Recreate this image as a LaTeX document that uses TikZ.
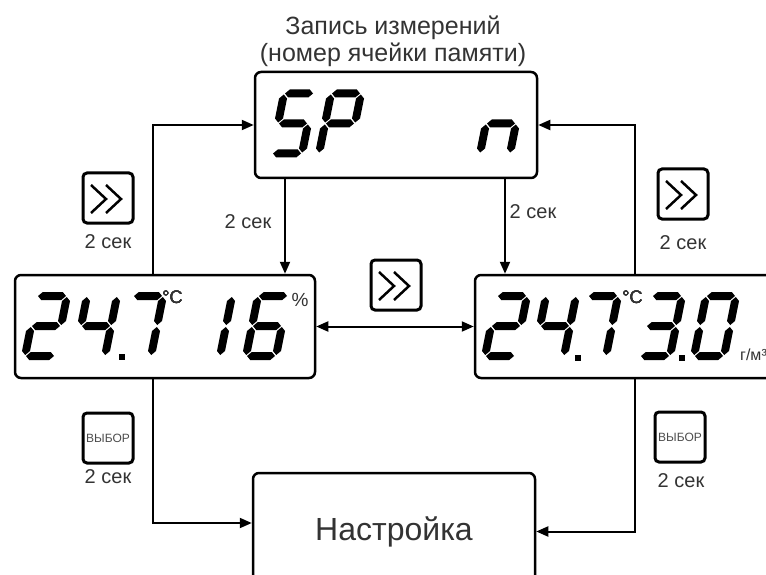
\documentclass[tikz,border=0pt]{standalone}
\usepackage{fontspec}
\setmainfont{Liberation Sans}
\usetikzlibrary{arrows.meta}

\tikzset{
  display/.style={draw, line width=2.5pt, rounded corners=6pt, inner sep=0pt},
  key/.style={draw, line width=3pt, rounded corners=4pt, minimum size=50pt, inner sep=0pt},
  wire/.style={line width=2pt},
  unit/.style={text=black!80, inner sep=0pt, font=\fontsize{18}{18}\selectfont},
  delay/.style={text=black!80, font=\fontsize{20}{20}\selectfont}
}

% pointed segments, horizontal and vertical
\newcommand\hseg[3]{\fill (#1-4,#3) -- (#1,#3+4) -- (#2,#3+4) -- (#2+4,#3) -- (#2,#3-4) -- (#1,#3-4) -- cycle;}
\newcommand\vseg[3]{\fill (#1,#2-4) -- (#1+4,#2) -- (#1+4,#3) -- (#1,#3+4) -- (#1-4,#3) -- (#1-4,#2) -- cycle;}

% segments of one digit, a..g
\pgfkeys{
  /seg/a/.code={\hseg{5}{25}{60}},
  /seg/b/.code={\vseg{30}{35}{55}},
  /seg/c/.code={\vseg{30}{5}{25}},
  /seg/d/.code={\hseg{5}{25}{0}},
  /seg/e/.code={\vseg{0}{5}{25}},
  /seg/f/.code={\vseg{0}{35}{55}},
  /seg/g/.code={\hseg{5}{25}{30}}
}

\newcommand\lcddigit[3]{%
  \edef\seglist{#3}%
  \begin{scope}[shift={(#1,#2)}, yscale=-1, xslant=-0.2]
    \foreach \s in \seglist {\pgfkeys{/seg/\s}}
  \end{scope}}

\newcommand\lcddot[2]{\fill (#1-3,#2-3) rectangle (#1+3,#2+3);}

\newcommand\chevrons[1]{%
  \draw[line width=2.5pt, shift={(#1)}] (-17,-13) -- (-2,1) -- (-17,15)
    (-2,-13) -- (13,1) -- (-2,15);}

\begin{document}
\begin{tikzpicture}[x=1pt, y=-1pt, >={Triangle[length=12pt,width=10pt]}]
\clip (0,0) rectangle (766,575);

\node [align=center, text=black!80, font=\fontsize{25}{27}\selectfont] (title) at (393,41)
  {Запись измерений\\(номер ячейки памяти)};

% displays
\node [display, minimum width=282pt, minimum height=106pt] (sp) at (396,125) {};
\node [display, minimum width=300pt, minimum height=103pt] (th) at (165,326.5) {};
\node [display, minimum width=300pt, minimum height=103pt] (ta) at (625,326.5) {};
\node [display, minimum width=282pt, minimum height=117pt, text=black!80,
  font=\fontsize{32}{36}\selectfont] (set) at (394,531.5) {Настройка};

% SP n
\lcddigit{272}{153.5}{a,f,g,c,d}
\lcddigit{319}{153.5}{a,b,f,g,e}
\lcddigit{480}{153.5}{e,g,c}

% 24.7 16
\foreach \x/\sg in {25/{a,b,g,e,d}, 75/{f,g,b,c}, 121/{a,b,c}, 190/{b,c}, 246/{a,f,g,e,d,c}}
  \lcddigit{\x}{356}{\sg}
\lcddot{122}{357}
\node [unit] (degl) at (172.5,297) {°C};
\node [unit, font=\fontsize{19}{19}\selectfont] (rh) at (300,300) {\%};

% 24.7 3.0
\foreach \x/\sg in {485/{a,b,g,e,d}, 534/{f,g,b,c}, 576/{a,b,c}, 640/{a,b,g,c,d}, 694/{a,b,c,d,e,f}}
  \lcddigit{\x}{356}{\sg}
\lcddot{578}{358}
\lcddot{682}{358}
\node [unit] (degr) at (632.5,297) {°C};
\node [unit, anchor=south west, font=\fontsize{16}{16}\selectfont] (ah) at (740,361) {г/м³};

% keys
\node [key] (fl) at (108,198) {};
\chevrons{fl}
\node [key] (fr) at (683,194) {};
\chevrons{fr}
\node [key] (fm) at (396,285) {};
\chevrons{fm}
\node [key, text=black!70, font=\fontsize{12}{12}\selectfont] (sl) at (108,438) {ВЫБОР};
\node [key, text=black!70, font=\fontsize{12}{12}\selectfont] (sr) at (680,437) {ВЫБОР};

\foreach \x/\y [count=\i] in {108/242, 683/243, 108/477, 681/481, 248/222, 533/212}
  \node [delay] (t-\i) at (\x,\y) {2 сек};

% connectors
\coordinate (xl) at (153,0);
\coordinate (xr) at (635,0);
\coordinate (dl) at (285,0);
\coordinate (dr) at (505,0);
\draw [wire, ->] (th.north -| xl) |- (sp.west);
\draw [wire, ->] (ta.north -| xr) |- (sp.east);
\draw [wire, ->] (sp.south -| dl) -- (th.north -| dl);
\draw [wire, ->] (sp.south -| dr) -- (ta.north -| dr);
\draw [wire, <->] (th.east) -- (ta.west);
\draw [wire, ->] (th.south -| xl) |- ([yshift=8.5pt]set.west);
\draw [wire, ->] (ta.south -| xr) |- (set.east);

\end{tikzpicture}
\end{document}
